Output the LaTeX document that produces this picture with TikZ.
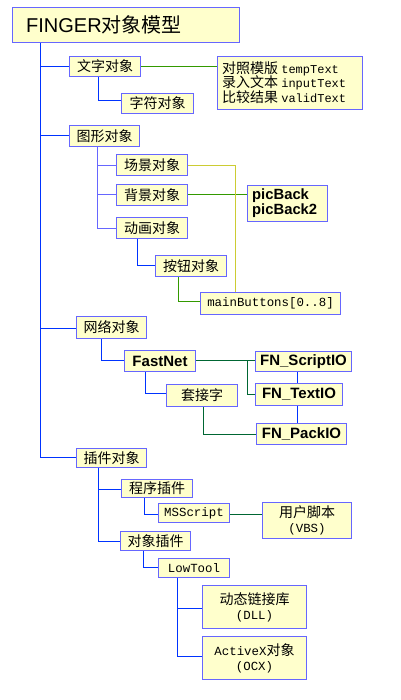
\documentclass[tikz,border=0pt]{standalone}
\usepackage{fontspec}
\setmainfont{Liberation Sans}
\newfontfamily\cjk{Noto Sans CJK SC}
\newfontfamily\monof{Liberation Mono}
\newfontfamily\arialf{Liberation Sans}
\definecolor{bordc}{HTML}{6666FF}
\definecolor{fillc}{HTML}{FFFFCC}
\definecolor{bluel}{HTML}{0033FF}
\definecolor{lbluel}{HTML}{6666FF}
\definecolor{greenl}{HTML}{339900}
\definecolor{dgreenl}{HTML}{006633}
\definecolor{yell}{HTML}{CCCC33}
\tikzset{
  bx/.style={draw=bordc, fill=fillc, line width=1pt, inner sep=0pt, anchor=north west},
  cj/.style={font=\cjk\fontsize{14}{15}\selectfont},
  bl/.style={draw=bluel, line width=1pt},
  lbl/.style={draw=lbluel, line width=1pt},
  gl/.style={draw=greenl, line width=1pt},
  dgl/.style={draw=dgreenl, line width=1pt},
  yl/.style={draw=yell, line width=1pt},
}
\newcommand{\bxat}[6]{% name, x1, y1, x2, y2, content
  \node[bx, minimum width=#4pt-#2pt, minimum height=#5pt-#3pt] (#1) at (#2,#3) {};
}
\begin{document}
\begin{tikzpicture}[x=1pt,y=-1pt]
\useasboundingbox (0,0) rectangle (400,700);
% boxes
\node[bx, minimum width=227pt, minimum height=35pt] (root) at (12,7) {};
\node[anchor=west, inner sep=0pt] at (26,24.5) {\fontsize{20}{22}\selectfont FINGER{\cjk 对象模型}};

\node[bx, cj, minimum width=71pt, minimum height=20pt] (wz) at (69,56) {};
\node[cj, inner sep=0pt] at (wz.center) {文字对象};
\node[bx, minimum width=72pt, minimum height=20pt] (zf) at (121,93) {};
\node[cj, inner sep=0pt] at (zf.center) {字符对象};
\node[bx, minimum width=145pt, minimum height=53pt] (tx) at (217,56) {};
\node[anchor=west, inner sep=0pt, align=left, font=\cjk\fontsize{14}{14.5}\selectfont] at (222,82.5)
 {对照模版 {\monof\fontsize{12}{14}\selectfont tempText}\\录入文本 {\monof\fontsize{12}{14}\selectfont inputText}\\比较结果 {\monof\fontsize{12}{14}\selectfont validText}};

\node[bx, minimum width=70pt, minimum height=21pt] (tx2) at (69,125) {};
\node[cj, inner sep=0pt] at (tx2.center) {图形对象};
\node[bx, minimum width=71pt, minimum height=21pt] (cjn) at (116,154) {};
\node[cj, inner sep=0pt] at (cjn.center) {场景对象};
\node[bx, minimum width=71pt, minimum height=21pt] (bj) at (116,184) {};
\node[cj, inner sep=0pt] at (bj.center) {背景对象};
\node[bx, minimum width=71pt, minimum height=21pt] (dh) at (116,217) {};
\node[cj, inner sep=0pt] at (dh.center) {动画对象};
\node[bx, minimum width=80pt, minimum height=36pt] (pb) at (247,185) {};
\node[anchor=west, inner sep=0pt, align=left, font=\bfseries\fontsize{14.8}{15}\selectfont] at (252,203) {picBack\\picBack2};
\node[bx, minimum width=71pt, minimum height=21pt] (an) at (155,255) {};
\node[cj, inner sep=0pt] at (an.center) {按钮对象};
\node[bx, minimum width=140pt, minimum height=22pt] (mb) at (200,292) {};
\node[inner sep=0pt, font=\monof\fontsize{12.4}{14}\selectfont] at (mb.center) {mainButtons[0..8]};

\node[bx, minimum width=70pt, minimum height=22pt] (wl) at (76,316) {};
\node[cj, inner sep=0pt] at (wl.center) {网络对象};
\node[bx, minimum width=71pt, minimum height=21pt] (fn) at (124,350) {};
\node[inner sep=0pt, font=\bfseries\fontsize{15}{16}\selectfont] at (fn.center) {FastNet};
\node[bx, minimum width=71pt, minimum height=22pt] (tj) at (166,384) {};
\node[cj, inner sep=0pt] at (tj.center) {套接字};
\node[bx, minimum width=96pt, minimum height=20pt] (fs) at (255,351) {};
\node[inner sep=0pt, font=\bfseries\fontsize{15}{16}\selectfont] at (fs.center) {FN\_ScriptIO};
\node[bx, minimum width=87pt, minimum height=22pt] (ft) at (255,383) {};
\node[inner sep=0pt, font=\bfseries\fontsize{15}{16}\selectfont] at (ft.center) {FN\_TextIO};
\node[bx, minimum width=90pt, minimum height=21pt] (fp) at (256,423) {};
\node[inner sep=0pt, font=\bfseries\fontsize{15}{16}\selectfont] at (fp.center) {FN\_PackIO};

\node[bx, minimum width=70pt, minimum height=19pt] (cx) at (76,448) {};
\node[cj, inner sep=0pt] at (cx.center) {插件对象};
\node[bx, minimum width=71pt, minimum height=18pt] (cs) at (121,479) {};
\node[cj, inner sep=0pt] at (cs.center) {程序插件};
\node[bx, minimum width=70pt, minimum height=19pt] (dx) at (120,531) {};
\node[cj, inner sep=0pt] at (dx.center) {对象插件};
\node[bx, minimum width=71pt, minimum height=19pt] (ms) at (158,503) {};
\node[inner sep=0pt, font=\monof\fontsize{12.4}{14}\selectfont] at (ms.center) {MSScript};
\node[bx, minimum width=89pt, minimum height=36pt] (yh) at (262,502) {};
\node[inner sep=0pt, align=center, font=\cjk\fontsize{14}{15}\selectfont] at (yh.center) {用户脚本\\{\monof\fontsize{12.4}{14}\selectfont (VBS)}};
\node[bx, minimum width=71pt, minimum height=19pt] (lt) at (158,558) {};
\node[inner sep=0pt, font=\monof\fontsize{12.4}{14}\selectfont] at (lt.center) {LowTool};
\node[bx, minimum width=104pt, minimum height=43pt] (dl) at (202,585) {};
\node[inner sep=0pt, align=center, font=\cjk\fontsize{14}{15}\selectfont] at (dl.center) {动态链接库\\{\monof\fontsize{12.4}{14}\selectfont (DLL)}};
\node[bx, minimum width=104pt, minimum height=43pt] (ax) at (202,636) {};
\node[inner sep=0pt, align=center, font=\cjk\fontsize{14}{15}\selectfont] at (ax.center) {{\monof\fontsize{12.4}{14}\selectfont ActiveX}对象\\{\monof\fontsize{12.4}{14}\selectfont (OCX)}};

% connectors
\draw[bl] (root.south -| 40,0) -- (40,457) -- (cx.west |- 0,457);
\draw[bl] (40,66.5) -- (wz.west |- 0,66.5);
\draw[bl] (40,136) -- (tx2.west |- 0,136);
\draw[bl] (40,328) -- (wl.west |- 0,328);
\draw[bl] (wz.south -| 98.5,0) -- (98.5,101) -- (zf.west |- 0,101);
\draw[gl] (wz.east |- 0,66.5) -- (tx.west |- 0,66.5);

\draw[lbl] (tx2.south -| 97.5,0) -- (97.5,229) -- (dh.west |- 0,229);
\draw[lbl] (97.5,166) -- (cjn.west |- 0,166);
\draw[lbl] (97.5,195) -- (bj.west |- 0,195);
\draw[gl] (bj.east |- 0,195) -- (pb.west |- 0,195);
\draw[yl] (cjn.east |- 0,166) -- (235.5,166) -- (mb.north -| 235.5,0);
\draw[bl] (dh.south -| 137,0) -- (137,265.5) -- (an.west |- 0,265.5);
\draw[gl] (an.south -| 178,0) -- (178,301.5) -- (mb.west |- 0,301.5);

\draw[bl] (wl.south -| 101,0) -- (101,360) -- (fn.west |- 0,360);
\draw[bl] (fn.south -| 145,0) -- (145,393.5) -- (tj.west |- 0,393.5);
\draw[dgl] (fn.east |- 0,360.5) -- (fs.west |- 0,360.5);
\draw[dgl] (247,360.5) -- (247,394) -- (ft.west |- 0,394);
\draw[bl] (fs.south -| 297,0) -- (ft.north -| 297,0);
\draw[bl] (ft.south -| 297,0) -- (fp.north -| 297,0);
\draw[dgl] (tj.south -| 203,0) -- (203,434) -- (fp.west |- 0,434);

\draw[bl] (cx.south -| 98.5,0) -- (98.5,541) -- (dx.west |- 0,541);
\draw[bl] (98.5,489) -- (cs.west |- 0,489);
\draw[bl] (cs.south -| 144,0) -- (144,514) -- (ms.west |- 0,514);
\draw[dgl] (ms.east |- 0,514) -- (yh.west |- 0,514);
\draw[bl] (dx.south -| 143.5,0) -- (143.5,567) -- (lt.west |- 0,567);
\draw[bl] (lt.south -| 177,0) -- (177,656) -- (ax.west |- 0,656);
\draw[bl] (177,608) -- (dl.west |- 0,608);
\end{tikzpicture}
\end{document}
